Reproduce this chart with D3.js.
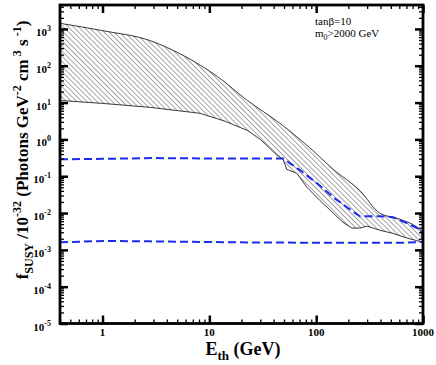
<!DOCTYPE html>
<html>
<head>
<meta charset="utf-8">
<script src="https://cdn.jsdelivr.net/npm/d3@7"></script>
<style>
  body { margin: 0; background: #fff; }
  svg { display: block; }
</style>
</head>
<body>
<div id="chart"></div>
<script>
// band of SUSY predictions (upper and lower edges)
let upperE = [0.4, 1, 2.8, 5.7, 11.9, 22.7, 46, 93, 144, 256, 396, 610, 935, 1000];
let upperF = [1420, 900, 480, 190, 51, 11.4, 2.7, 0.50, 0.154, 0.041, 0.0098, 0.0068, 0.0036, 0.003];

let lowerE = [0.4, 1, 2.8, 8.2, 14.1, 22.7, 30, 43, 49, 53, 66, 82, 108, 135, 178, 216, 256, 300, 396, 525, 705, 1000];
let lowerF = [11.4, 9.5, 7.4, 5.1, 3.1, 1.75, 1.0, 0.37, 0.29, 0.154, 0.12, 0.05, 0.022, 0.012, 0.0056, 0.0039, 0.0039, 0.0044, 0.0034, 0.0028, 0.0021, 0.0016];

// blue dashed curves
let dashTopE = [0.4, 1, 3.1, 8.2, 49, 57, 71, 102, 144, 194, 256, 396, 525, 705, 935, 980, 1000];
let dashTopF = [0.287, 0.296, 0.311, 0.305, 0.305, 0.224, 0.144, 0.064, 0.027, 0.0144, 0.0082, 0.0082, 0.0077, 0.0053, 0.0036, 0.0028, 0.0017];

let dashLowE = [0.4, 1.07, 2.8, 27, 610, 1000];
let dashLowF = [0.0016, 0.00175, 0.0017, 0.00158, 0.00155, 0.00165];

let xMajor = [1, 10, 100, 1000];
let yExps = [-5, -4, -3, -2, -1, 0, 1, 2, 3];

let serif = '"Liberation Serif", "Times New Roman", "DejaVu Serif", serif';

let width = 436, height = 365;
let margin = { top: 5, right: 13, bottom: 41.5, left: 60 };
let plotW = width - margin.left - margin.right;
let plotH = height - margin.top - margin.bottom;

var svg = d3.select("#chart")
    .append("svg")
    .attr("width", width)
    .attr("height", height)
    .style("font-family", serif);

var x = d3.scaleLog().domain([0.4, 1000]).range([margin.left, margin.left + plotW]);
var y = d3.scaleLog().domain([1e-5, Math.pow(10, 3.65)]).range([margin.top + plotH, margin.top]);

// hatch pattern
var defs = svg.append("defs");
var pat = defs.append("pattern")
    .attr("id", "hatch")
    .attr("patternUnits", "userSpaceOnUse")
    .attr("width", 3.6)
    .attr("height", 3.6)
    .attr("patternTransform", "rotate(-45)");
pat.append("line")
    .attr("x1", 0).attr("y1", 0)
    .attr("x2", 0).attr("y2", 3.6)
    .style("stroke", "#222")
    .style("stroke-width", 0.8);

defs.append("clipPath").attr("id", "clip")
    .append("rect")
    .attr("x", margin.left).attr("y", margin.top)
    .attr("width", plotW).attr("height", plotH);

var g = svg.append("g").attr("clip-path", "url(#clip)");

var smooth = d3.line()
    .x(d => x(d[0]))
    .y(d => y(d[1]))
    .curve(d3.curveMonotoneX);

var line = d3.line()
    .x(d => x(d[0]))
    .y(d => y(d[1]));

// the band: smooth upper edge, linear lower edge back
var upper = upperE.map((e, i) => [e, upperF[i]]);
var lower = lowerE.map((e, i) => [e, lowerF[i]]);
var lowerPath = line(lower.slice().reverse());
g.append("path")
    .attr("d", smooth(upper) + "L" + lowerPath.slice(1) + "Z")
    .style("fill", "url(#hatch)")
    .style("stroke", "#222")
    .style("stroke-width", 0.9);

// dashed blue lines
[[dashTopE, dashTopF], [dashLowE, dashLowF]].forEach(s => {
    g.append("path")
        .attr("d", line(s[0].map((e, i) => [e, s[1][i]])))
        .style("fill", "none")
        .style("stroke", "#1a2cf0")
        .style("stroke-width", 2)
        .style("stroke-dasharray", "8,4");
});

// ticks, all pointing inward
var xAll = x.ticks().filter(v => v >= 0.4 && v <= 1000);
var xMinor = xAll.filter(v => !xMajor.includes(v));
var yAll = y.ticks(20);
var yMajor = yExps.map(e => Math.pow(10, e));
var yMinor = yAll.filter(v => !yMajor.some(m => Math.abs(m - v) / m < 1e-6));

function drawTicks(axis, pos, vals, size, sw) {
    var a = svg.append("g")
        .attr("transform", pos)
        .call(axis.tickValues(vals).tickSize(size).tickFormat(""));
    a.select(".domain").remove();
    a.selectAll("line").style("stroke", "#000").style("stroke-width", sw);
}

let bottomY = margin.top + plotH, rightX = margin.left + plotW;
drawTicks(d3.axisBottom(x), "translate(0," + bottomY + ")", xMinor, -4, 1.3);
drawTicks(d3.axisBottom(x), "translate(0," + bottomY + ")", xMajor, -8, 2.5);
drawTicks(d3.axisTop(x), "translate(0," + margin.top + ")", xMinor, -4, 1.3);
drawTicks(d3.axisTop(x), "translate(0," + margin.top + ")", xMajor, -8, 2.5);
drawTicks(d3.axisLeft(y), "translate(" + margin.left + ",0)", yMinor, -4, 1.3);
drawTicks(d3.axisLeft(y), "translate(" + margin.left + ",0)", yMajor, -8, 2.5);
drawTicks(d3.axisRight(y), "translate(" + rightX + ",0)", yMinor, -4, 1.3);
drawTicks(d3.axisRight(y), "translate(" + rightX + ",0)", yMajor, -8, 2.5);

// frame
svg.append("rect")
    .attr("x", margin.left).attr("y", margin.top)
    .attr("width", plotW).attr("height", plotH)
    .style("fill", "none")
    .style("stroke", "#000")
    .style("stroke-width", 2.8);

// x tick labels
svg.selectAll(".xlab")
    .data(xMajor)
    .enter()
    .append("text")
    .attr("x", d => x(d))
    .attr("y", bottomY + 12.5)
    .attr("text-anchor", "middle")
    .style("font-family", serif)
    .style("font-size", "11px")
    .style("font-weight", "bold")
    .text(d => d);

// y tick labels: 10^n
yExps.forEach(e => {
    var t = svg.append("text")
        .attr("x", 51)
        .attr("y", y(Math.pow(10, e)) + 7)
        .attr("text-anchor", "end")
        .style("font-family", serif)
        .style("font-size", "11px")
        .style("font-weight", "bold");
    t.append("tspan").text("10");
    t.append("tspan").attr("dy", -5).style("font-size", "8px").text(e);
});

// axis titles
var xt = svg.append("text")
    .attr("x", 243)
    .attr("y", 355)
    .attr("text-anchor", "middle")
    .style("font-family", serif)
    .style("font-size", "18px")
    .style("font-weight", "bold");
xt.append("tspan").text("E");
xt.append("tspan").attr("dy", 5).style("font-size", "13px").text("th");
xt.append("tspan").attr("dy", -5).text(" (GeV)");

var yt = svg.append("text")
    .attr("transform", "translate(28,150) rotate(-90)")
    .attr("text-anchor", "middle")
    .style("font-family", serif)
    .style("font-size", "17px")
    .style("font-weight", "bold");
yt.append("tspan").text("f");
yt.append("tspan").attr("dy", 5).style("font-size", "12px").text("SUSY");
yt.append("tspan").attr("dy", -5).text(" /10");
yt.append("tspan").attr("dy", -7).style("font-size", "12px").text("-32");
yt.append("tspan").attr("dy", 7).text(" (Photons GeV");
yt.append("tspan").attr("dy", -7).style("font-size", "12px").text("-2");
yt.append("tspan").attr("dy", 7).text("  cm");
yt.append("tspan").attr("dy", -7).style("font-size", "12px").text(" 3");
yt.append("tspan").attr("dy", 7).text("  s");
yt.append("tspan").attr("dy", -7).style("font-size", "12px").text(" -1");
yt.append("tspan").attr("dy", 7).text(")");

// annotation
svg.append("text")
    .attr("x", 315).attr("y", 25)
    .style("font-family", serif)
    .style("font-size", "11px")
    .text("tanβ=10");
var ann = svg.append("text")
    .attr("x", 315).attr("y", 37)
    .style("font-family", serif)
    .style("font-size", "11px");
ann.append("tspan").text("m");
ann.append("tspan").attr("dy", 3).style("font-size", "8px").text("0");
ann.append("tspan").attr("dy", -3).text(">2000 GeV");
</script>
</body>
</html>
